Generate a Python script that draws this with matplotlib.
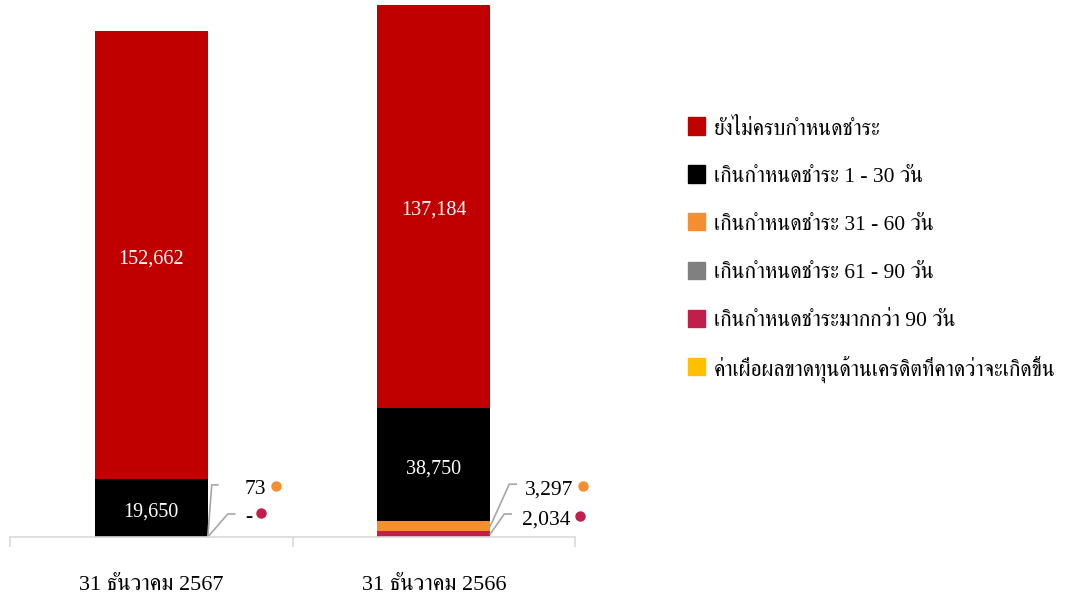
import matplotlib
matplotlib.use("Agg")
import numpy as np
from matplotlib import pyplot as plt
from matplotlib.patches import Rectangle

plt.rcParams['font.family'] = ['Liberation Serif', 'FreeSerif']

categories = ['31 ธันวาคม 2567', '31 ธันวาคม 2566']
series_names = [
    'ยังไม่ครบกำหนดชำระ',
    'เกินกำหนดชำระ 1 - 30 วัน',
    'เกินกำหนดชำระ 31 - 60 วัน',
    'เกินกำหนดชำระ 61 - 90 วัน',
    'เกินกำหนดชำระมากกว่า 90 วัน',
    'ค่าเผื่อผลขาดทุนด้านเครดิตที่คาดว่าจะเกิดขึ้น',
]
not_due = [152662, 137184]
overdue_1_30 = [19650, 38750]
overdue_31_60 = [73, 3297]
overdue_61_90 = [0, 0]
overdue_90 = [0, 2034]
allowance = [0, 0]

colors = ['#C00000', '#000000', '#F58E2F', '#808080', '#C21E4B', '#FFC000']
grid_grey = '#D9D9D9'
leader_grey = '#A6A6A6'


def fmt(v):
    return '-' if v == 0 else f'{v:,.0f}'


fig = plt.figure(figsize=(10.69, 5.94), dpi=100)
ax = fig.add_axes([10 / 1069, 1 - 537 / 594, 565 / 1069, 532 / 594])

x = np.arange(len(categories))
width = 0.4
# stacked from the bottom up
stack = [
    (overdue_90, colors[4]),
    (overdue_61_90, colors[3]),
    (overdue_31_60, colors[2]),
    (overdue_1_30, colors[1]),
    (not_due, colors[0]),
    (allowance, colors[5]),
]
bottom = np.zeros(len(categories))
bars = {}
for vals, col in stack:
    bars[col] = (ax.bar(x, vals, width, bottom=bottom, color=col), bottom.copy())
    bottom = bottom + np.array(vals)

ax.set_xlim(-0.5, 1.5)
ax.set_ylim(0, bottom.max())
ax.set_yticks([])
for s in ['top', 'right', 'left']:
    ax.spines[s].set_visible(False)
ax.spines['bottom'].set_color(grid_grey)
ax.spines['bottom'].set_linewidth(1.2)
ax.set_xticks([-0.5, 0.5, 1.5])
ax.set_xticklabels([])
ax.set_xticks(x, minor=True)
ax.set_xticklabels(categories, minor=True, fontsize=16)
ax.tick_params(axis='x', which='major', direction='out', length=7.5,
               color=grid_grey, width=1.2)
ax.tick_params(axis='x', which='minor', length=0, pad=28)

# labels inside the two big segments
for vals, col in [(not_due, colors[0]), (overdue_1_30, colors[1])]:
    cont, bot = bars[col]
    for i, v in enumerate(vals):
        ax.annotate(fmt(v), (x[i], bot[i] + v / 2), xytext=(0, -3),
                    textcoords='offset points', ha='center', va='center',
                    color='white', fontsize=14.5)

# callout labels for the thin segments:
# (series, colour, bar index, elbow offsets px, text offset px)
callouts = [
    (overdue_31_60, colors[2], 0, [(4, 52), (10, 52)], (37, 47)),
    (overdue_90, colors[4], 0, [(20, 23), (27, 23)], (37, 20)),
    (overdue_31_60, colors[2], 1, [(19, 42), (26, 42)], (35, 36)),
    (overdue_90, colors[4], 1, [(14, 20), (21, 20)], (32, 14)),
]
fig.canvas.draw()
renderer = fig.canvas.get_renderer()
for vals, col, i, elbow, toff in callouts:
    cont, bot = bars[col]
    v = vals[i]
    edge = x[i] + width / 2
    px, py = ax.transData.transform((edge, bot[i] + v / 2))
    pts = [(px, py)] + [(px + dx, py + dy) for dx, dy in elbow]
    xs, ys = zip(*pts)
    ax.add_line(plt.Line2D(xs, ys, transform=None, color=leader_grey, lw=1.2,
                           clip_on=False))
    t = ax.text(px + toff[0], py + toff[1], fmt(v), transform=None,
                ha='left', va='center', fontsize=15.5, color='black')
    bb = t.get_window_extent(renderer)
    ax.plot([bb.x1 + 9.5], [py + toff[1] + 4], 'o', ms=6.5, color=col,
            transform=None, clip_on=False)

# legend drawn by hand so the row pitch matches
for k, (name, col) in enumerate(zip(series_names, colors)):
    yc = 1 - (126 + 48 * k) / 594
    fig.patches.append(Rectangle((688 / 1069, yc - 8.5 / 594), 17 / 1069, 17 / 594,
                                 transform=fig.transFigure, color=col))
    fig.text(714 / 1069, yc - 3 / 594, name, ha='left', va='center', fontsize=15.5)

fig.savefig('out.png')
